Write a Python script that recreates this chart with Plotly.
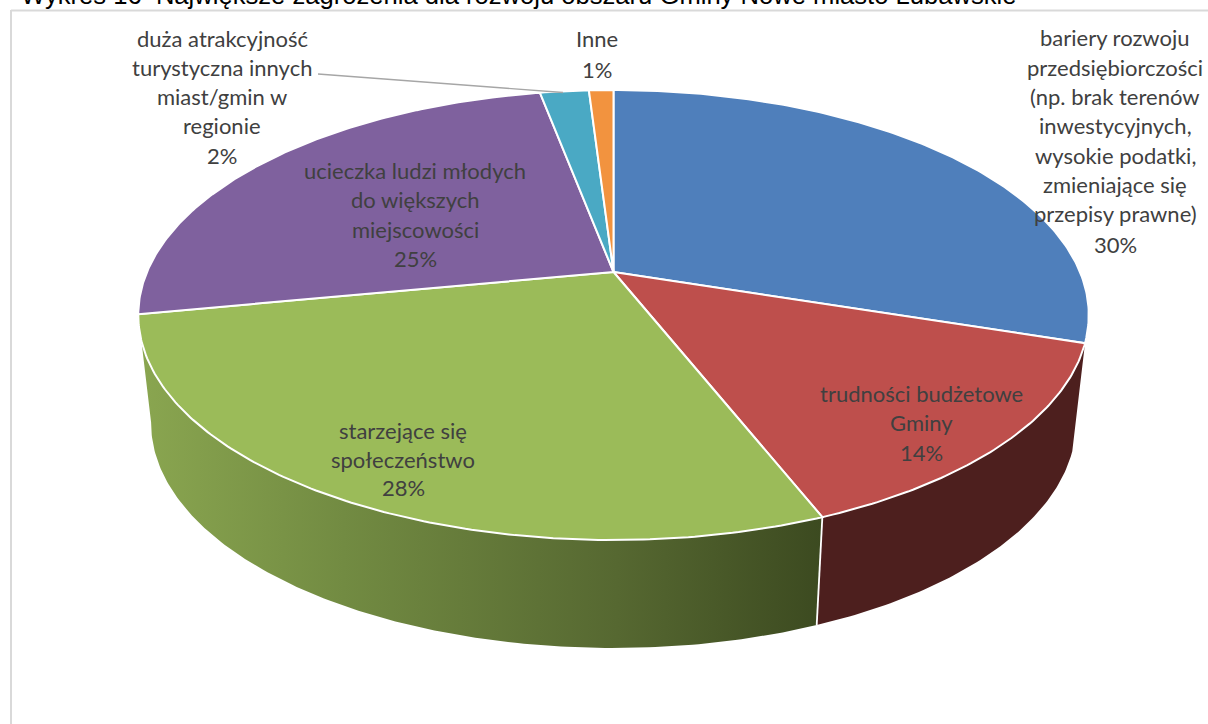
import numpy as np
import plotly.graph_objects as go

TITLE = "Wykres 16  Największe zagrożenia dla rozwoju obszaru Gminy Nowe miasto Lubawskie"
categories = [
    "bariery rozwoju przedsiębiorczości",
    "trudności budżetowe Gminy",
    "starzejące się społeczeństwo",
    "ucieczka ludzi młodych do większych miejscowości",
    "duża atrakcyjność turystyczna innych miast/gmin w regionie",
    "Inne",
]
values = [30, 14, 28, 25, 2, 1]
top_colors = ["#4F7FBB", "#BE4F4C", "#9BBB59", "#7F619E", "#4AA9C4", "#F2933F"]

# perspective of the pie, in page pixels
CX, CY, A, B, C = 613.5, 272.0, 466.5, -164.8, 0.1911
DROP, SHRINK = 108.0, 0.973


def top(theta):
    u, v = np.sin(theta), np.cos(theta)
    d = 1 + C * v
    return CX + A * u / d, (B * v + CY) / d


def bottom(theta):
    x, y = top(theta)
    return CX + (x - CX) * SHRINK, y + DROP


fracs = np.array(values, dtype=float) / sum(values)
edges = np.concatenate([[0], np.cumsum(fracs)]) * 2 * np.pi


def arc(a, b):
    return np.linspace(a, b, max(8, int((b - a) * 90)))


fig = go.Figure()

# side walls of the slices that face the viewer
wall_styles = {
    1: dict(fillcolor="#4D1F1E"),
    2: dict(fillgradient=dict(type="horizontal",
                              colorscale=[[0, "#8AA650"], [0.3, "#728B42"], [0.7, "#566831"], [1, "#3C4A20"]])),
}
for i, style in wall_styles.items():
    t = arc(edges[i], edges[i + 1])
    xt, yt = top(t)
    xb, yb = bottom(t[::-1])
    fig.add_trace(go.Scatter(
        x=np.r_[xt, xb, xt[0]], y=np.r_[yt, yb, yt[0]], mode="lines", fill="toself",
        line=dict(width=0), hoverinfo="skip", **style))

# divider between the two walls
x0, y0 = top(edges[2])
x1, y1 = bottom(edges[2])
fig.add_trace(go.Scatter(x=[x0, x1], y=[y0, y1], mode="lines",
                         line=dict(color="white", width=1.8), hoverinfo="skip"))

# top faces
for i, name in enumerate(categories):
    t = arc(edges[i], edges[i + 1])
    x, y = top(t)
    fig.add_trace(go.Scatter(
        x=np.r_[CX, x, CX], y=np.r_[CY, y, CY], mode="lines", fill="toself", name=name,
        fillcolor=top_colors[i], line=dict(color="white", width=2), hoverinfo="skip"))

# leader line
fig.add_trace(go.Scatter(x=[318, 563], y=[74, 92.5], mode="lines",
                         line=dict(color="#A6A6A6", width=1.3), hoverinfo="skip"))

# labels: one block per slice, each line set apart as in the picture
label_blocks = [
    (1115, [37, 67, 96, 125, 155, 184, 213, 244],
     ["bariery rozwoju", "przedsiębiorczości", "(np. brak terenów", "inwestycyjnych,",
      "wysokie podatki,", "zmieniające się", "przepisy prawne)", "30%"]),
    (921, [393, 422, 452], ["trudności budżetowe", "Gminy", "14%"]),
    (403, [430, 459, 487], ["starzejące się", "społeczeństwo", "28%"]),
    (415, [170, 199, 229, 258], ["ucieczka ludzi młodych", "do większych", "miejscowości", "25%"]),
    (222, [38, 67, 96, 125, 155], ["duża atrakcyjność", "turystyczna innych", "miast/gmin w", "regionie", "2%"]),
    (597, [38, 69], ["Inne", "1%"]),
]
annotations = []
for cx, ys, lines in label_blocks:
    for y, line in zip(ys, lines):
        annotations.append(dict(x=cx, y=y, text=line, xref="x", yref="y", showarrow=False,
                                xanchor="center", yanchor="middle",
                                font=dict(family="Lato", size=22, color="#404040")))
annotations.append(dict(x=19, y=0, yshift=5, text=TITLE, xref="x", yref="y", showarrow=False,
                        xanchor="left", yanchor="middle",
                        font=dict(family="Liberation Sans", size=25.6, color="#000000")))

shapes = [
    dict(type="line", x0=11, x1=11, y0=10, y1=724, line=dict(color="#D9D9D9", width=2), layer="below"),
    dict(type="line", x0=11, x1=1208, y0=10.5, y1=10.5, line=dict(color="#D9D9D9", width=2), layer="below"),
]

fig.update_layout(
    width=1208, height=724, margin=dict(l=0, r=0, t=0, b=0), showlegend=False,
    paper_bgcolor="white", plot_bgcolor="white",
    xaxis=dict(range=[0, 1208], visible=False, fixedrange=True),
    yaxis=dict(range=[724, 0], visible=False, fixedrange=True),
    annotations=annotations, shapes=shapes,
)
fig.write_html("out.html", config=dict(displayModeBar=False),
               post_script="document.body.style.margin='0';document.documentElement.style.overflow='hidden';")
